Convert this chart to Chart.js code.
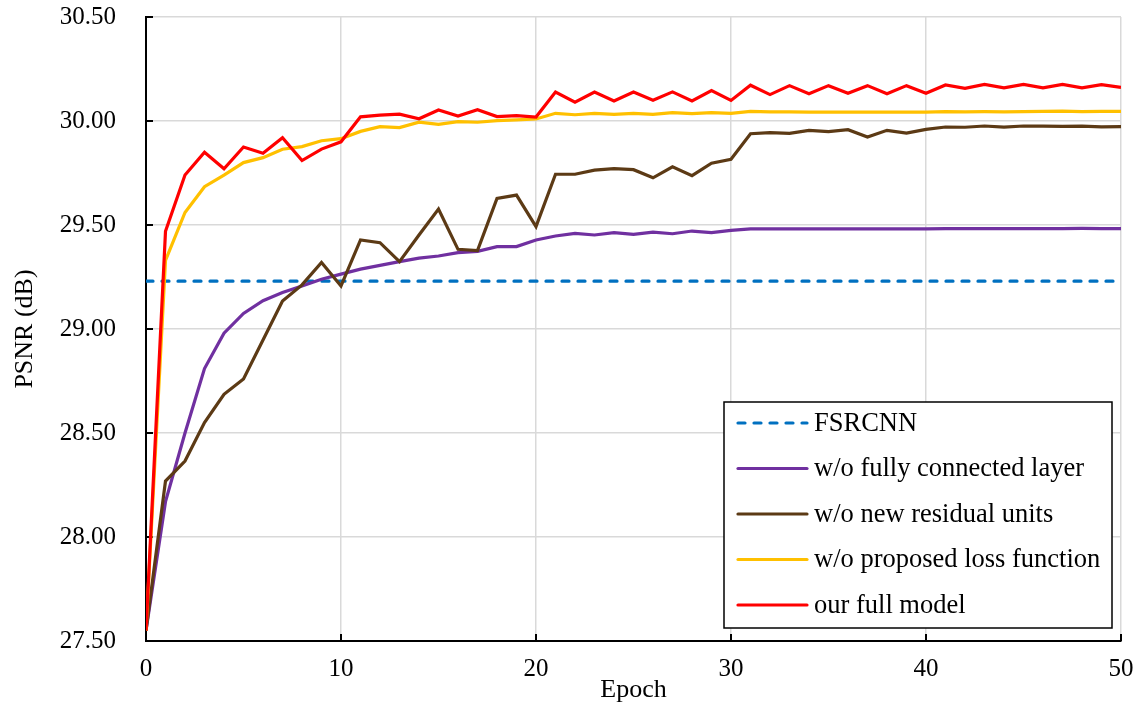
<!DOCTYPE html>
<html>
<head>
<meta charset="utf-8">
<script src="https://cdn.jsdelivr.net/npm/chart.js@4.4.1/dist/chart.umd.min.js"></script>
<style>
  html, body { margin: 0; padding: 0; background: #fff; }
  #chart { display: block; }
</style>
</head>
<body>
<canvas id="chart" width="1139" height="707"></canvas>
<script>
// epochs 0..50
const epochs = [0, 1, 2, 3, 4, 5, 6, 7, 8, 9, 10, 11, 12, 13, 14, 15, 16, 17, 18, 19, 20,
  21, 22, 23, 24, 25, 26, 27, 28, 29, 30, 31, 32, 33, 34, 35, 36, 37, 38, 39, 40,
  41, 42, 43, 44, 45, 46, 47, 48, 49, 50];

// FSRCNN baseline (flat)
const fsrcnnEpochs = [0, 50];
const fsrcnnPsnr = [29.23, 29.23];

const noFcPsnr = [27.55, 28.17, 28.50, 28.81, 28.98, 29.075, 29.136, 29.175, 29.207, 29.239, 29.264,
  29.288, 29.306, 29.324, 29.341, 29.351, 29.367, 29.373, 29.396, 29.396, 29.428,
  29.447, 29.46, 29.452, 29.463, 29.455, 29.466, 29.458, 29.471, 29.463, 29.474,
  29.481, 29.481, 29.481, 29.481, 29.481, 29.481, 29.481, 29.481, 29.481, 29.481,
  29.483, 29.483, 29.483, 29.483, 29.483, 29.483, 29.483, 29.484, 29.483, 29.483];

const noResPsnr = [27.55, 28.269, 28.365, 28.55, 28.686, 28.76, 28.947, 29.135, 29.212, 29.32, 29.207,
  29.428, 29.415, 29.324, 29.452, 29.577, 29.383, 29.377, 29.628, 29.644, 29.492,
  29.744, 29.744, 29.764, 29.771, 29.766, 29.727, 29.78, 29.737, 29.797, 29.816,
  29.939, 29.944, 29.941, 29.955, 29.949, 29.958, 29.923, 29.955, 29.942, 29.96,
  29.971, 29.97, 29.976, 29.971, 29.976, 29.975, 29.974, 29.975, 29.972, 29.973];

const noLossPsnr = [27.55, 29.33, 29.56, 29.684, 29.74, 29.80, 29.824, 29.864, 29.877, 29.905, 29.915,
  29.95, 29.973, 29.968, 29.994, 29.984, 29.997, 29.994, 30.002, 30.005, 30.01,
  30.037, 30.03, 30.037, 30.032, 30.037, 30.032, 30.04, 30.035, 30.04, 30.037,
  30.046, 30.044, 30.044, 30.043, 30.043, 30.043, 30.043, 30.043, 30.043, 30.043,
  30.045, 30.044, 30.045, 30.044, 30.045, 30.046, 30.047, 30.045, 30.046, 30.046];

const fullPsnr = [27.55, 29.47, 29.74, 29.85, 29.77, 29.875, 29.845, 29.92, 29.81, 29.865, 29.90,
  30.02, 30.028, 30.033, 30.011, 30.053, 30.024, 30.054, 30.021, 30.026, 30.019,
  30.139, 30.09, 30.139, 30.096, 30.139, 30.10, 30.14, 30.096, 30.146, 30.099,
  30.172, 30.127, 30.17, 30.131, 30.17, 30.133, 30.17, 30.131, 30.17, 30.133,
  30.173, 30.157, 30.176, 30.159, 30.176, 30.159, 30.176, 30.159, 30.175, 30.162];

const seriesNames = ['FSRCNN', 'w/o fully connected layer', 'w/o new residual units',
  'w/o proposed loss function', 'our full model'];
const seriesColors = ['#0070C0', '#7030A0', '#5C3A15', '#FFC000', '#FF0000'];

const yTicks = [27.5, 28.0, 28.5, 29.0, 29.5, 30.0, 30.5];
const xTicks = [0, 10, 20, 30, 40, 50];

const FONT = '"Liberation Serif", "Times New Roman", serif';

function pts(xs, ys) {
  return xs.map((x, i) => ({ x: x, y: ys[i] }));
}

function line(idx, xs, ys, extra) {
  return Object.assign({
    label: seriesNames[idx],
    data: pts(xs, ys),
    borderColor: seriesColors[idx],
    backgroundColor: seriesColors[idx],
    borderWidth: 3.2,
    pointRadius: 0,
    tension: 0,
    fill: false,
    order: 5 - idx
  }, extra || {});
}

// small inward tick marks on both axes
const innerTicks = {
  id: 'innerTicks',
  beforeDatasetsDraw(chart) {
    const ctx = chart.ctx;
    const xs = chart.scales.x, ys = chart.scales.y;
    ctx.save();
    ctx.strokeStyle = '#000';
    ctx.lineWidth = 2;
    yTicks.forEach(v => {
      const y = Math.round(ys.getPixelForValue(v));
      ctx.beginPath();
      ctx.moveTo(xs.left, y);
      ctx.lineTo(xs.left + 7, y);
      ctx.stroke();
    });
    xTicks.forEach(v => {
      const x = Math.round(xs.getPixelForValue(v));
      ctx.beginPath();
      ctx.moveTo(x, ys.bottom);
      ctx.lineTo(x, ys.bottom - 7);
      ctx.stroke();
    });
    ctx.restore();
  }
};

// boxed legend inside the plot, bottom right
const boxLegend = {
  id: 'boxLegend',
  afterDraw(chart) {
    const ctx = chart.ctx;
    const area = chart.chartArea;
    const right = area.right - 9, bottom = area.bottom - 13;
    const w = 388, h = 226;
    const left = right - w, top = bottom - h;
    ctx.save();
    ctx.fillStyle = '#fff';
    ctx.fillRect(left, top, w, h);
    ctx.strokeStyle = '#000';
    ctx.lineWidth = 1.5;
    ctx.strokeRect(left, top, w, h);
    ctx.font = '26.5px ' + FONT;
    ctx.textBaseline = 'middle';
    ctx.textAlign = 'left';
    const ds = chart.data.datasets;
    ds.forEach((d, i) => {
      const y = top + 21 + i * 45.5;
      ctx.beginPath();
      ctx.strokeStyle = d.borderColor;
      ctx.lineWidth = 3.2;
      ctx.lineCap = 'round';
      ctx.setLineDash(d.borderDash || []);
      ctx.moveTo(left + 14, y);
      ctx.lineTo(left + 83, y);
      ctx.stroke();
      ctx.setLineDash([]);
      ctx.fillStyle = '#000';
      ctx.fillText(d.label, left + 90, y + 1);
    });
    ctx.restore();
  }
};

new Chart(document.getElementById('chart'), {
  type: 'line',
  data: {
    datasets: [
      line(0, fsrcnnEpochs, fsrcnnPsnr, { borderDash: [7, 9], borderCapStyle: 'round' }),
      line(1, epochs, noFcPsnr),
      line(2, epochs, noResPsnr),
      line(3, epochs, noLossPsnr),
      line(4, epochs, fullPsnr)
    ]
  },
  options: {
    responsive: false,
    animation: false,
    devicePixelRatio: 1,
    layout: { padding: { left: 0, right: 18, top: 17, bottom: 0 } },
    plugins: {
      legend: { display: false },
      tooltip: { enabled: false }
    },
    scales: {
      x: {
        type: 'linear',
        min: 0,
        max: 50,
        afterBuildTicks(scale) { scale.ticks = xTicks.map(v => ({ value: v })); },
        afterFit(scale) {
          scale.height = 66;
          scale.paddingLeft = 0;
          scale.paddingRight = 0;
        },
        ticks: { color: '#000', font: { family: FONT, size: 25 }, padding: 13, maxRotation: 0 },
        grid: { color: '#d9d9d9', lineWidth: 1.5, drawTicks: false },
        border: { display: true, color: '#000', width: 2 },
        title: { display: true, text: 'Epoch', color: '#000', font: { family: FONT, size: 26 }, padding: { top: 0, bottom: 1 } }
      },
      y: {
        min: 27.5,
        max: 30.5,
        afterBuildTicks(scale) { scale.ticks = yTicks.map(v => ({ value: v })); },
        afterFit(scale) {
          scale.width = 146;
          scale.paddingTop = 0;
          scale.paddingBottom = 0;
        },
        ticks: { color: '#000', font: { family: FONT, size: 25 }, padding: 30, callback: v => v.toFixed(2) },
        grid: { color: '#d9d9d9', lineWidth: 1.5, drawTicks: false },
        border: { display: true, color: '#000', width: 2 },
        title: { display: true, text: 'PSNR (dB)', color: '#000', font: { family: FONT, size: 26 }, padding: { top: 10, bottom: 0 } }
      }
    }
  },
  plugins: [innerTicks, boxLegend]
});
</script>
</body>
</html>
